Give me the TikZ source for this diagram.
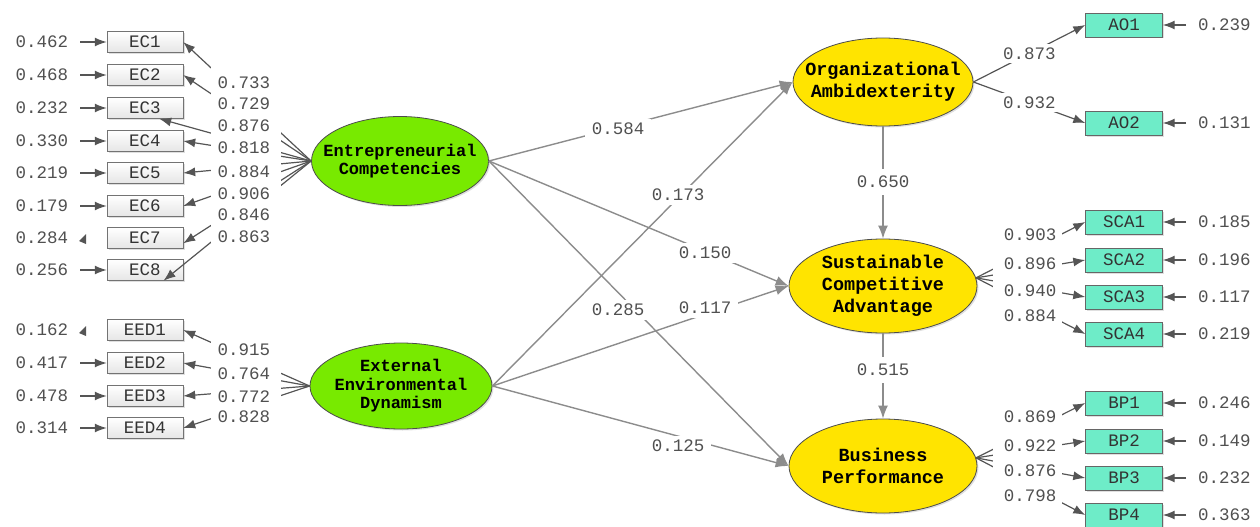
\documentclass[tikz,border=0pt]{standalone}
\usepackage{fontspec}
\setmonofont{Liberation Mono}
\usetikzlibrary{arrows.meta,shapes.geometric,shadows}
\definecolor{latgreen}{RGB}{120,234,0}
\definecolor{latyellow}{RGB}{255,228,0}
\definecolor{indteal}{RGB}{110,236,200}
\definecolor{txtgray}{RGB}{80,80,80}
\definecolor{strgray}{RGB}{140,140,140}
\definecolor{indgray}{RGB}{85,85,85}
\begin{document}
\begin{tikzpicture}[x=1pt,y=-1pt,
  font=\ttfamily\fontsize{17.5}{20}\selectfont,
  lbox/.style={draw=black!55, top color=white, bottom color=black!10, minimum width=76pt, minimum height=21pt, inner sep=0pt, text=black!80, drop shadow={opacity=0.25, shadow xshift=1.5pt, shadow yshift=-1.5pt}},
  rbox/.style={draw=black!60, fill=indteal, minimum width=77pt, minimum height=24pt, inner sep=0pt, text=black!80, drop shadow={opacity=0.25, shadow xshift=1.5pt, shadow yshift=-1.5pt}},
  latg/.style={ellipse, draw=black!70, line width=0.8pt, fill=latgreen, inner sep=0pt, drop shadow={opacity=0.25, shadow xshift=1.5pt, shadow yshift=-1.5pt}},
  laty/.style={ellipse, draw=black!70, line width=0.8pt, fill=latyellow, inner sep=0pt, drop shadow={opacity=0.25, shadow xshift=1.5pt, shadow yshift=-1.5pt}},
  gtext/.style={align=center, font=\ttfamily\bfseries\fontsize{17}{18.5}\selectfont, text=black},
  ytext/.style={align=center, font=\ttfamily\bfseries\fontsize{18.5}{22}\selectfont, text=black},
  errtxt/.style={inner sep=0pt, text=txtgray},
  loadtxt/.style={inner sep=0pt, text=txtgray},
  lab/.style={fill=white, inner xsep=7pt, inner ysep=4pt, text=txtgray},
  errarr/.style={draw=indgray, line width=1.4pt, shorten <=12pt, -{Latex[length=12pt,width=9pt]}},
  indarr/.style={draw=indgray, line width=1.2pt, -{Latex[length=12pt,width=9pt]}},
  strarr/.style={draw=strgray, line width=1.4pt, -{Latex[length=13pt,width=10pt]}}
]
\useasboundingbox (0,0) rectangle (1260,527);

% ---------- latent variables ----------
\node[latg, minimum width=177pt, minimum height=89pt, label={[gtext]center:Entrepreneurial\\Competencies}] (EC) at (400,161) {};
\node[latg, minimum width=182pt, minimum height=86pt, label={[gtext]center:External\\Environmental\\Dynamism}] (EED) at (401,386) {};
\node[laty, minimum width=180pt, minimum height=88pt, label={[ytext]center:Organizational\\Ambidexterity}] (OA) at (883,82) {};
\node[laty, minimum width=188pt, minimum height=94pt, label={[ytext]center:Sustainable\\Competitive\\Advantage}] (SCA) at (883,286) {};
\node[laty, minimum width=188pt, minimum height=94pt, label={[ytext]center:Business\\Performance}] (BP) at (883,466) {};

% ---------- left indicators ----------
\foreach \n/\y/\v in {1/42/0.462,2/75/0.468,3/108/0.232,4/141/0.330,5/173/0.219,6/206/0.179,7/238/0.284,8/270/0.256}{
  \node[lbox] (EC\n) at (145,\y) {EC\n};
  \node[errtxt] (eEC\n) at (42,\y) {\v};
}
\foreach \n/\y/\v in {1/330/0.162,2/363/0.417,3/396/0.478,4/428/0.314}{
  \node[lbox] (EED\n) at (145,\y) {EED\n};
  \node[errtxt] (eEED\n) at (42,\y) {\v};
}
\foreach \n in {1,2,3,4,5,6,8}{\draw[errarr] (eEC\n) -- (EC\n);}
\foreach \n in {2,3,4}{\draw[errarr] (eEED\n) -- (EED\n);}
\fill[indgray] (79,241) -- (86,234) -- (86,244) -- cycle;
\fill[indgray] (79,333) -- (86,326) -- (86,336) -- cycle;

% loadings EC
\draw[indarr] (EC.west) -- (EC1.east);
\draw[indarr] (EC.west) -- (EC2.east);
\draw[indarr] (EC.west) -- (EC3.-37);
\draw[indarr] (EC.west) -- (EC4.east);
\draw[indarr] (EC.west) -- (EC5.east);
\draw[indarr] (EC.west) -- (EC6.east);
\draw[indarr] (EC.west) -- (EC7.-8);
\draw[indarr] (EC.west) -- (EC8.-30);
% loadings EED
\draw[indarr] (EED.west) -- (EED1.east);
\draw[indarr] (EED.west) -- (EED2.east);
\draw[indarr] (EED.west) -- (EED3.east);
\draw[indarr] (EED.west) -- (EED4.east);
\fill[white] (211,62) rectangle (281,250);
\fill[white] (211,336) rectangle (281,424);
\foreach \y/\v in {83/0.733,104/0.729,126/0.876,148/0.818,172/0.884,194/0.906,215/0.846,237/0.863,350/0.915,374/0.764,397/0.772,417/0.828}{
  \node[loadtxt] at (244,\y) {\v};
}

% ---------- right indicators ----------
\foreach \nm/\y/\v in {AO1/25/0.239,AO2/123/0.131,SCA1/222/0.185,SCA2/260/0.196,SCA3/297/0.117,SCA4/334/0.219,BP1/403/0.246,BP2/441/0.149,BP3/478/0.232,BP4/515/0.363}{
  \node[rbox] (\nm) at (1124,\y) {\nm};
  \node[errtxt, anchor=west] (e\nm) at (1198,\y) {\v};
  \draw[errarr] (e\nm) -- (\nm);
}
\draw[indarr] (OA.east) -- (AO1.west) node[lab, pos=0.5] {0.873};
\draw[indarr] (OA.east) -- (AO2.west) node[lab, pos=0.5] {0.932};
\foreach \n in {1,2,3,4}{
  \draw[indarr] (SCA.5) -- (SCA\n.west);
  \draw[indarr] (BP.5) -- (BP\n.west);
}
\fill[white] (993,224) rectangle (1062,330);
\fill[white] (993,406) rectangle (1062,509);
\foreach \y/\v in {235/0.903,264/0.896,291/0.940,316/0.884,417/0.869,446/0.922,471/0.876,496/0.798}{
  \node[loadtxt] at (1030,\y) {\v};
}

% ---------- structural paths ----------
\draw[strarr] (EC.east) -- (OA.west);
\draw[strarr] (EC.east) -- (SCA.west);
\draw[strarr] (EC.east) -- (BP.west);
\draw[strarr] (EED.east) -- (OA.west);
\draw[strarr] (EED.east) -- (SCA.west);
\draw[strarr] (EED.east) -- (BP.west);
\draw[strarr] (OA.south) -- (SCA.north);
\draw[strarr] (SCA.south) -- (BP.north);
\node[lab] at (618,129) {0.584};
\node[lab] at (678,195) {0.173};
\node[lab] at (705,253) {0.150};
\node[lab] at (705,308) {0.117};
\node[lab] at (618,310) {0.285};
\node[lab] at (678,446) {0.125};
\node[lab, inner ysep=7pt] at (883,182) {0.650};
\node[lab, inner ysep=7pt] at (883,370) {0.515};
\end{tikzpicture}
\end{document}
